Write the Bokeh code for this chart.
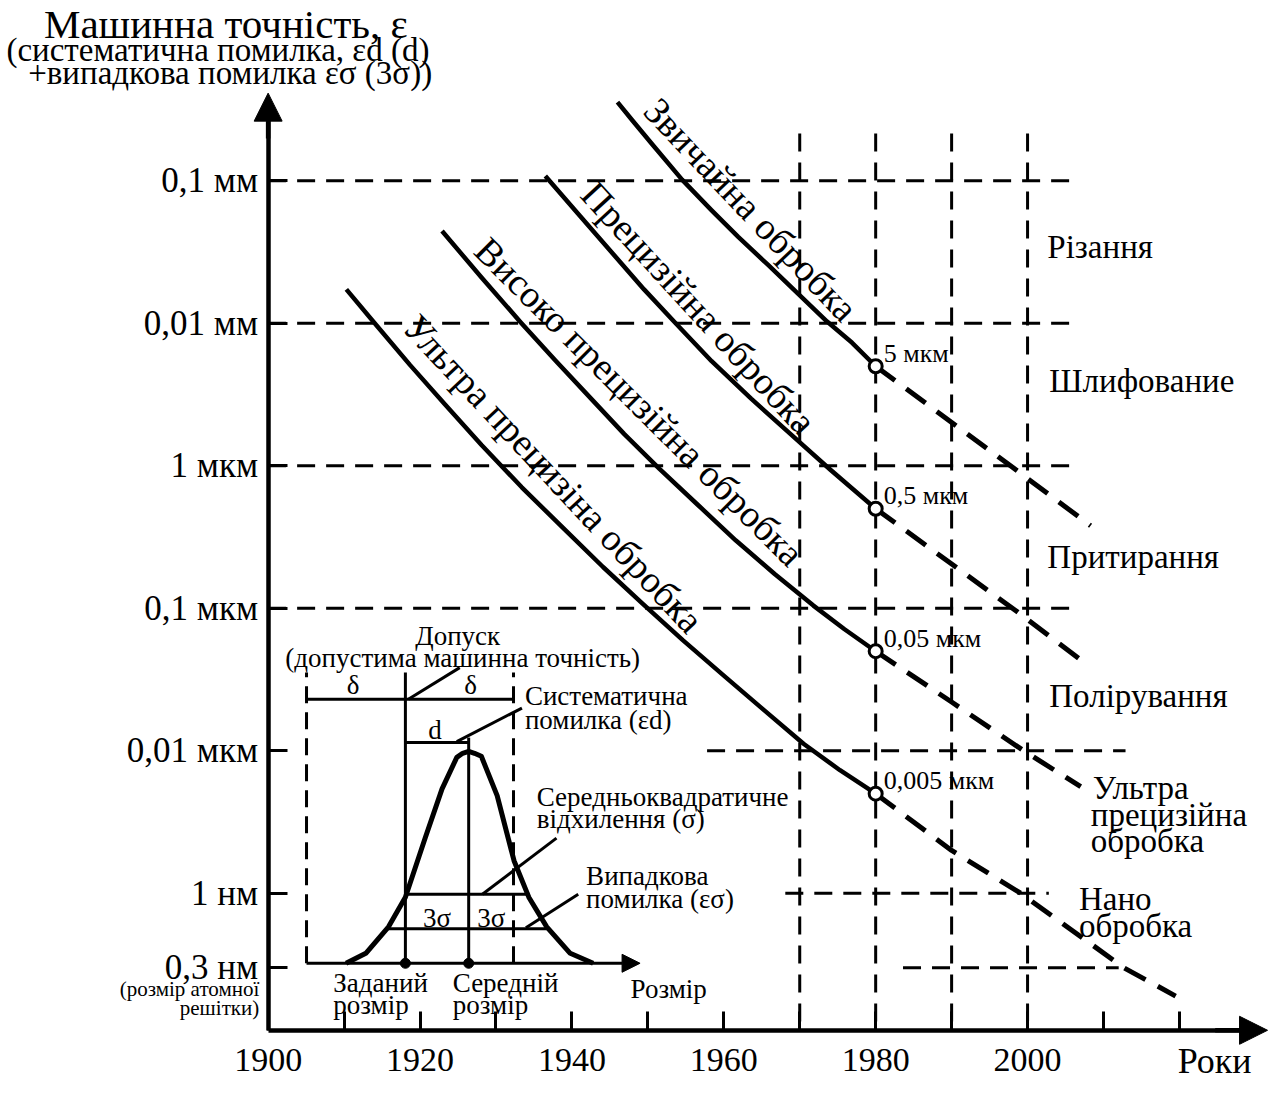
from bokeh.plotting import figure
from bokeh.models import Range1d, FixedTicker, Arrow, NormalHead, LinearScale
from bokeh.core.properties import value
from bokeh.embed import file_html
from bokeh.resources import INLINE

# ------------------------------------------------------------------ data
decade_ticks = [1900, 1910, 1920, 1930, 1940, 1950, 1960, 1970, 1980, 1990, 2000, 2010, 2020]
year_tick_labels = ["1900", "", "1920", "", "1940", "", "1960", "", "1980", "", "2000", "", ""]

acc_ticks_nm = [1e5, 1e4, 1e3, 1e2, 1e1, 1.0, 0.3]
acc_tick_labels = ["0,1 мм", "0,01 мм", "1 мкм", "0,1 мкм", "0,01 мкм", "1 нм", "0,3 нм"]

curve_names = ["Звичайна обробка", "Прецизійна обробка",
               "Високо прецизійна обробка", "Ультра прецизіна обробка"]
solid_years = [
    [1946.0, 1948.0, 1950.6, 1954.5, 1958.4, 1961.9, 1965.8, 1969.7, 1973.6, 1976.9, 1980.0],
    [1936.5, 1941.1, 1945.4, 1949.5, 1953.6, 1958.4, 1963.6, 1968.8, 1974.0, 1980.0],
    [1922.9, 1928.1, 1933.3, 1937.8, 1942.4, 1946.9, 1951.5, 1956.6, 1961.6, 1966.7,
     1971.8, 1975.9, 1980.0],
    [1910.3, 1914.2, 1918.7, 1923.3, 1928.1, 1933.4, 1938.8, 1944.1, 1949.3, 1954.6,
     1960.0, 1965.3, 1970.5, 1975.3, 1980.0],
]
solid_nm = [
    [3.57e5, 2.64e5, 1.80e5, 1.02e5, 6.2e4, 4.04e4, 2.58e4, 1.63e4, 1.03e4, 7.3e3, 5000],
    [1.08e5, 5.64e4, 3.08e4, 1.73e4, 1.01e4, 5.42e3, 2.96e3, 1.67e3, 942, 500],
    [4.44e4, 2.10e4, 1.01e4, 5.51e3, 3.01e3, 1.67e3, 957, 531, 299, 174, 104.5, 71.3, 50],
    [1.73e4, 9.78e3, 5.09e3, 2.69e3, 1.40e3, 707, 368, 195, 108, 59.8, 33.7, 19.3, 11.2,
     7.31, 5],
]
dash_years = [
    [1980.0, 1998.2, 2008.3],
    [1980.0, 1998.6, 2007.0],
    [1980.0, 1990.0, 1999.5, 2007.0],
    [1980.0, 1990.0, 1999.1, 2012.7, 2019.5],
]
dash_nm = [
    [5000, 960, 380],
    [500, 95, 43.5],
    [50, 22, 10, 5.6],
    [5, 2.0, 1.0, 0.3, 0.19],
]
mark_year = 1980
mark_nm = [5000, 500, 50, 5]
mark_labels = ["5 мкм", "0,5 мкм", "0,05 мкм", "0,005 мкм"]

# dashed reference lines
h_levels_nm = [1e5, 1e4, 1e3, 1e2, 1e1, 1.0, 0.3]
h_from_year = [1900, 1900, 1900, 1900, 1957.8, 1968.1, 1983.6]
h_to_year = [2006.1, 2006.1, 2006.1, 2006.1, 2012.9, 2002.8, 2012.0]
v_years = [1970, 1980, 1990, 2000]
v_top_nm = 2.15e5

process_labels = ["Різання", "Шлифование", "Притирання", "Полірування"]

# inset: size distribution (size in sigma units from the nominal size, relative frequency)
bell_u = [-2.25, -1.5, -0.64, 0.0, 0.75, 1.39, 1.95, 2.17, 2.4, 2.62, 2.88, 3.48, 4.12,
          4.68, 5.36, 6.25, 7.12]
bell_f = [0.0, 0.047, 0.172, 0.312, 0.591, 0.823, 0.972, 0.991, 1.0, 0.991, 0.977, 0.791,
          0.484, 0.312, 0.172, 0.047, 0.0]
nominal_u = 0.0
mean_u = 2.4
tol_low_u, tol_high_u = -3.75, 4.1
sigma_level_f, sigma_span_u = 0.326, (0.0, 4.7)
three_sigma_level_f, three_sigma_span_u = 0.163, (-0.64, 5.36)
size_axis_end_u = 8.9

# ------------------------------------------------------------------ layout helpers (reference px -> data)
X0, XS = 271.0, 7.69     # x of 1900, px per year
Y0, YS = 906.0, 144.6    # y of 1 nm, px per decade
U0, US = 410.0, 26.7     # inset: x of nominal size, px per sigma
F0, FS = 977.0, 215.0    # inset: y of baseline, px per unit frequency
REF_W, REF_H = 1286, 1099


def X(px):
    return 1900 + (px - X0) / XS


def Y(py):
    return 10 ** ((Y0 - py) / YS)


def U(px):
    return (px - U0) / US


def F(py):
    return (F0 - py) / FS


W, H = 1270, 1083
FONT = value("Liberation Serif")
AX_NM = Y(1045)

p = figure(width=W, height=H, x_range=Range1d(X(0), X(REF_W)), y_range=Range1d(Y(REF_H), Y(0)),
           y_axis_type="log", output_backend="svg", toolbar_location=None, min_border=0)
p.outline_line_color = None
p.grid.visible = False
p.extra_x_ranges = {"size": Range1d(U(0), U(REF_W))}
p.extra_y_ranges = {"freq": Range1d(F(REF_H), F(0))}
p.extra_x_scales = {"size": LinearScale()}
p.extra_y_scales = {"freq": LinearScale()}

# axes
xa = p.xaxis[0]
xa.fixed_location = AX_NM
xa.ticker = FixedTicker(ticks=decade_ticks, minor_ticks=[])
xa.major_label_overrides = {y: l for y, l in zip(decade_ticks, year_tick_labels)}
xa.bounds = (1900, X(1260))
ya = p.yaxis[0]
ya.fixed_location = 1900
ya.ticker = FixedTicker(ticks=acc_ticks_nm, minor_ticks=[])
ya.major_label_overrides = {v: l for v, l in zip(acc_ticks_nm, acc_tick_labels)}
ya.bounds = (AX_NM, Y(120))
for ax in (xa, ya):
    ax.axis_line_width = 4.5
    ax.axis_line_color = "black"
    ax.major_tick_in = 19
    ax.major_tick_out = 0
    ax.major_tick_line_width = 3
    ax.major_tick_line_color = "black"
    ax.minor_tick_line_color = None
    ax.major_label_text_font = "Liberation Serif"
    ax.major_label_text_color = "black"
    ax.major_label_text_font_style = "normal"
xa.major_label_text_font_size = "34px"
xa.major_label_standoff = 19
ya.major_label_text_font_size = "35px"
ya.major_label_standoff = 10

p.add_layout(Arrow(end=NormalHead(size=28, fill_color="black", line_color="black"),
                   x_start=1900, y_start=Y(140), x_end=1900, y_end=Y(94),
                   line_width=4.5, line_color="black"))
p.add_layout(Arrow(end=NormalHead(size=28, fill_color="black", line_color="black"),
                   x_start=X(1230), y_start=AX_NM, x_end=X(1283), y_end=AX_NM,
                   line_width=4.5, line_color="black"))

# dashed reference lines
p.multi_line(xs=[[a, b] for a, b in zip(h_from_year, h_to_year)],
             ys=[[v, v] for v in h_levels_nm],
             line_color="black", line_width=3, line_dash="18 11")
p.multi_line(xs=[[v, v] for v in v_years],
             ys=[[v_top_nm, AX_NM] for _ in v_years],
             line_color="black", line_width=3, line_dash="18 11")

# trend curves
p.multi_line(xs=solid_years, ys=solid_nm, line_color="black", line_width=4.5, line_join="round")
p.multi_line(xs=dash_years, ys=dash_nm, line_color="black", line_width=5, line_dash="24 14")
p.scatter([mark_year] * len(mark_nm), mark_nm, size=13, marker="circle",
          fill_color="white", line_color="black", line_width=3)
p.text([mark_year] * len(mark_nm), mark_nm, text=mark_labels, x_offset=8, y_offset=-13,
       text_font=FONT, text_font_size="26px", text_align="left", text_baseline="middle",
       text_color="black")

# curve labels (rotated along the curves)
lab_px = [(760, 212, -0.813), (707, 312, -0.829), (647, 407, -0.785), (560, 480, -0.82)]
p.text([X(a) for a, b, c in lab_px], [Y(b) for a, b, c in lab_px], text=curve_names,
       angle=[c for a, b, c in lab_px], text_font=FONT, text_font_size="38px",
       text_align="center", text_baseline="middle", text_color="black")

# free texts in main coordinates: (text, ref x, ref y, align, size)
main_texts = [
    ("Машинна точність, ε", 44, 24, "left", "41px"),
    ("(систематична помилка, εd (d)", 6, 50, "left", "33px"),
    ("+випадкова помилка εσ (3σ))", 28, 74, "left", "33px"),
    ("(розмір атомної", 262, 1003, "right", "21px"),
    ("решітки)", 262, 1022, "right", "21px"),
    ("Роки", 1192, 1076, "left", "36px"),
    (process_labels[0], 1060, 250, "left", "33px"),
    (process_labels[1], 1062, 386, "left", "33px"),
    (process_labels[2], 1060, 565, "left", "33px"),
    (process_labels[3], 1062, 706, "left", "33px"),
    ("Ультра", 1106, 799, "left", "33px"),
    ("прецизійна", 1104, 827, "left", "33px"),
    ("обробка", 1104, 853, "left", "33px"),
    ("Нано", 1092, 912, "left", "33px"),
    ("обробка", 1092, 939, "left", "33px"),
]
for t, px, py, al, fs in main_texts:
    p.text([X(px)], [Y(py)], text=[t], text_font=FONT, text_font_size=fs,
           text_align=al, text_baseline="middle", text_color="black")

# ------------------------------------------------------------------ inset
IR = dict(x_range_name="size", y_range_name="freq")
top_f = F(682)
tol_f = F(709)
d_f = F(753)
p.multi_line(xs=[[tol_low_u, tol_low_u], [tol_high_u, tol_high_u]],
             ys=[[0, top_f], [0, top_f]], line_color="black", line_width=3,
             line_dash="17 9", **IR)
p.multi_line(xs=[[tol_low_u, tol_high_u], [nominal_u, nominal_u], [mean_u, mean_u],
                 [nominal_u, mean_u], list(sigma_span_u), list(three_sigma_span_u)],
             ys=[[tol_f, tol_f], [0, top_f], [0, F(748)], [d_f, d_f],
                 [sigma_level_f, sigma_level_f], [three_sigma_level_f, three_sigma_level_f]],
             line_color="black", line_width=3, **IR)
# leader lines
leaders = [((413, 709), (465, 677)), ((462, 752), (528, 718)),
           ((488, 907), (563, 850)), ((532, 941), (585, 907))]
p.multi_line(xs=[[U(a[0]), U(b[0])] for a, b in leaders],
             ys=[[F(a[1]), F(b[1])] for a, b in leaders],
             line_color="black", line_width=3, **IR)
p.line(bell_u, bell_f, line_color="black", line_width=5, line_join="round", **IR)
p.scatter([nominal_u, mean_u], [0, 0], size=10, marker="circle", fill_color="black",
          line_color="black", **IR)
p.add_layout(Arrow(end=NormalHead(size=18, fill_color="black", line_color="black"),
                   x_start=tol_low_u, y_start=0, x_end=size_axis_end_u, y_end=0,
                   line_width=3, line_color="black", **IR))

inset_texts = [
    ("Допуск", 463, 645, "center"),
    ("(допустима машинна точність)", 468, 667, "center"),
    ("δ", 357, 695, "center"), ("δ", 476, 695, "center"),
    ("d", 440, 740, "center"),
    ("Систематична", 531, 706, "left"), ("помилка (εd)", 531, 730, "left"),
    ("Середньоквадратичне", 543, 808, "left"), ("відхилення (σ)", 543, 831, "left"),
    ("Випадкова", 593, 888, "left"), ("помилка (εσ)", 593, 912, "left"),
    ("3σ", 442, 931, "center"), ("3σ", 497, 931, "center"),
    ("Заданий", 337, 997, "left"), ("розмір", 337, 1019, "left"),
    ("Середній", 458, 997, "left"), ("розмір", 458, 1019, "left"),
    ("Розмір", 638, 1003, "left"),
]
for t, px, py, al in inset_texts:
    p.text([U(px)], [F(py)], text=[t], text_font=FONT, text_font_size="27px",
           text_align=al, text_baseline="middle", text_color="black", **IR)

open("out.html", "w").write(file_html(p, INLINE))
